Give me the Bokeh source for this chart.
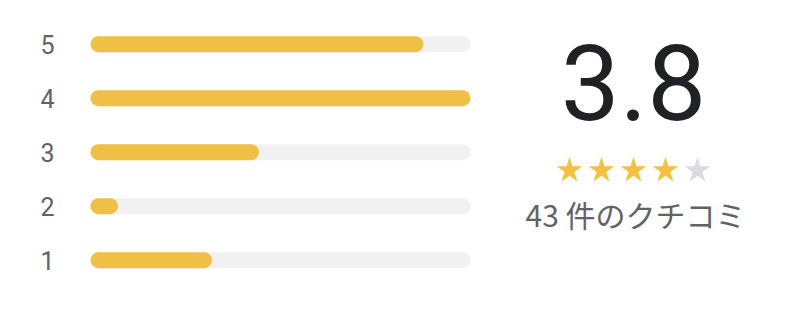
from bokeh.plotting import figure
from bokeh.layouts import row
from bokeh.models import Range1d, ColumnDataSource
from bokeh.core.properties import value
from bokeh.embed import file_html
from bokeh.resources import INLINE

# Review distribution
stars = [5, 4, 3, 2, 1]
counts = [14, 16, 7, 1, 5]
star_labels = ["5", "4", "3", "2", "1"]
average = 3.8
total = 43
summary_text = f"{total} 件のクチコミ"

GOLD = "#F0BF45"
TRACK = "#F1F1F1"
LABEL = "#5F6368"

# ---- left: bar distribution ----
W_L, H = 500, 316
max_count = max(counts)
pad = 0.17                       # rounded start cap of each bar
k = 380 / (max_count + pad)      # pixels per review
x0 = -pad - 90 / k
row_px = 54.0
y0 = 1 - 56.3 / row_px

left = figure(width=W_L, height=H, output_backend="svg", toolbar_location=None,
              x_range=Range1d(x0, x0 + W_L / k), y_range=Range1d(y0, y0 + H / row_px),
              min_border=0, outline_line_color=None)
left.axis.visible = False
left.grid.visible = False

src = ColumnDataSource(dict(y=stars, count=counts, label=star_labels,
                            track=[max_count] * len(stars)))
bar_h = 16 / row_px
left.hbar(y="y", left=-pad, right="track", height=bar_h, source=src,
          fill_color=TRACK, line_color=None, border_radius=8)
left.hbar(y="y", left=-pad, right="count", height=bar_h, source=src,
          fill_color=GOLD, line_color=None, border_radius=8)
left.text(x=x0 + 40 / k, y="y", text="label", source=src,
          text_font=value("Roboto"), text_font_size="25px", text_color=LABEL,
          text_align="left", text_baseline="middle")

# ---- right: average and stars ----
W_R = 288
right = figure(width=W_R, height=H, output_backend="svg", toolbar_location=None,
               x_range=Range1d(W_L, W_L + W_R), y_range=Range1d(0, H),
               min_border=0, outline_line_color=None)
right.axis.visible = False
right.grid.visible = False

cx = 633
right.text(x=[cx], y=[H - 81], text=[f"{average:.1f}"],
           text_font=value("Roboto"), text_font_size="105px", text_color="#202124",
           text_align="center", text_baseline="middle")

star_pos = [1, 2, 3, 4, 5]
star_colors = ["#F4C13F" if s <= round(average) else "#DADCE0" for s in star_pos]
right.scatter(x=[cx + (s - 3) * 32 for s in star_pos], y=[H - 170] * 5,
              marker="star", size=27, fill_color=star_colors, line_color=None)

right.text(x=[cx + 2], y=[H - 213], text=[summary_text],
           text_font=value("Noto Sans CJK JP"), text_font_size="30px", text_color=LABEL,
           text_align="center", text_baseline="middle")

layout = row(left, right)
open("out.html", "w").write(file_html(layout, INLINE))
